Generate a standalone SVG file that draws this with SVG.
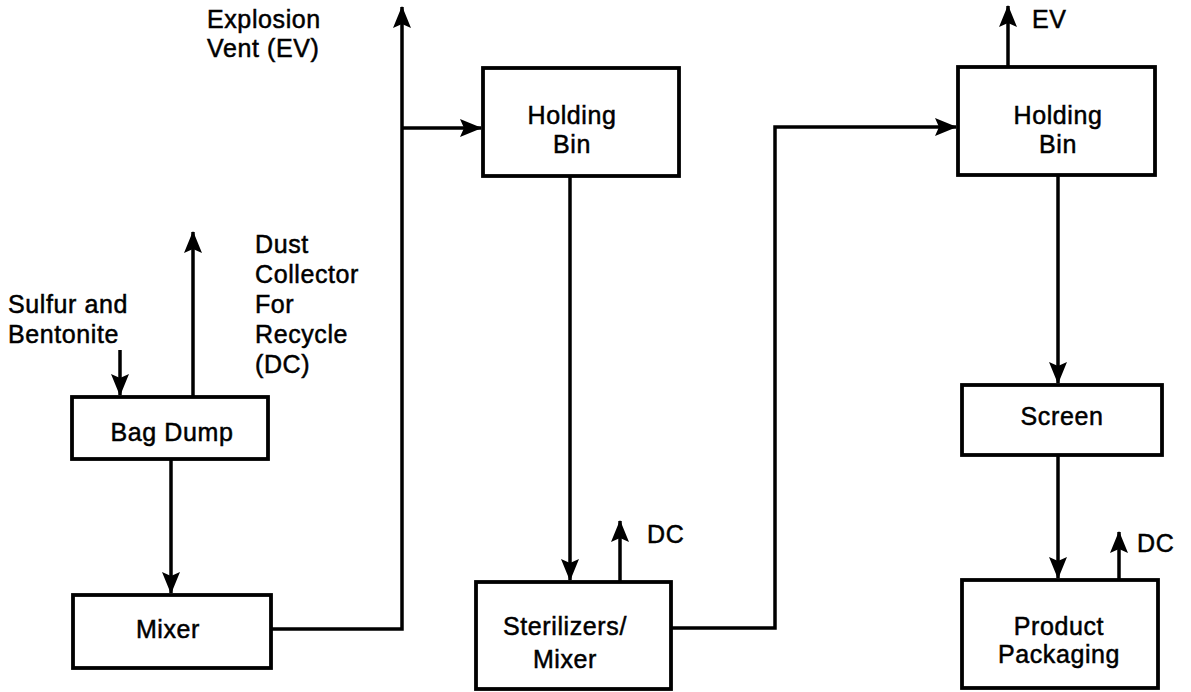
<svg xmlns="http://www.w3.org/2000/svg" width="1191" height="692" viewBox="0 0 1191 692">
<style>
.box{fill:#fff;stroke:#000;stroke-width:3.8}
.t{font-family:"Liberation Sans",Arial,sans-serif;font-size:25px;fill:#000;stroke:#000;stroke-width:0.5;letter-spacing:0.6px}
.m{text-anchor:middle}
.c{fill:none;stroke:#000;stroke-width:3.5;stroke-linejoin:miter}
</style>
<defs>
<marker id="ah" markerUnits="userSpaceOnUse" markerWidth="24" markerHeight="20" refX="21" refY="9" orient="auto">
<path d="M0,0 L22,9 L0,18 L4,9 z" fill="#000"/>
</marker>
</defs>
<rect width="1191" height="692" fill="#fff"/>
<g id="connectors">
<path class="c" d="M120,350 V395" marker-end="url(#ah)"/>
<path class="c" d="M193,397 V232" marker-end="url(#ah)"/>
<path class="c" d="M171,459 V593" marker-end="url(#ah)"/>
<path class="c" d="M271,629 H402 V7" marker-end="url(#ah)"/>
<path class="c" d="M402,128 H481" marker-end="url(#ah)"/>
<path class="c" d="M570,176 V580" marker-end="url(#ah)"/>
<path class="c" d="M620,582 V521" marker-end="url(#ah)"/>
<path class="c" d="M672,628 H775 V127 H956" marker-end="url(#ah)"/>
<path class="c" d="M1008,67 V6" marker-end="url(#ah)"/>
<path class="c" d="M1058,175 V383" marker-end="url(#ah)"/>
<path class="c" d="M1058,455 V578" marker-end="url(#ah)"/>
<path class="c" d="M1119,580 V532" marker-end="url(#ah)"/>
</g>
<g id="labels">
<text class="t" x="8" y="313">Sulfur and</text>
<text class="t" x="8" y="343">Bentonite</text>
<text class="t" x="255" y="253">Dust</text>
<text class="t" x="255" y="283">Collector</text>
<text class="t" x="255" y="313">For</text>
<text class="t" x="255" y="343">Recycle</text>
<text class="t" x="255" y="373">(DC)</text>
<text class="t" x="207" y="28">Explosion</text>
<text class="t" x="207" y="57">Vent (EV)</text>
<text class="t" x="647" y="543">DC</text>
<text class="t" x="1032" y="28">EV</text>
<text class="t" x="1137" y="552">DC</text>
</g>
<g id="bag-dump">
<rect class="box" x="72" y="397" width="196" height="62"/>
<text class="t m" x="172" y="441">Bag Dump</text>
</g>
<g id="mixer">
<rect class="box" x="73" y="595" width="198" height="73"/>
<text class="t m" x="168" y="638">Mixer</text>
</g>
<g id="holding-bin-1">
<rect class="box" x="483" y="68" width="196" height="108"/>
<text class="t m" x="572" y="124">Holding</text>
<text class="t m" x="572" y="153">Bin</text>
</g>
<g id="sterilizers">
<rect class="box" x="476" y="582" width="195" height="107"/>
<text class="t m" x="565" y="635">Sterilizers/</text>
<text class="t m" x="565" y="668">Mixer</text>
</g>
<g id="holding-bin-2">
<rect class="box" x="958" y="67" width="197" height="108"/>
<text class="t m" x="1058" y="124">Holding</text>
<text class="t m" x="1058" y="153">Bin</text>
</g>
<g id="screen">
<rect class="box" x="962" y="385" width="200" height="70"/>
<text class="t m" x="1062" y="425">Screen</text>
</g>
<g id="product-packaging">
<rect class="box" x="962" y="580" width="196" height="108"/>
<text class="t m" x="1059" y="635">Product</text>
<text class="t m" x="1059" y="663">Packaging</text>
</g>
</svg>
